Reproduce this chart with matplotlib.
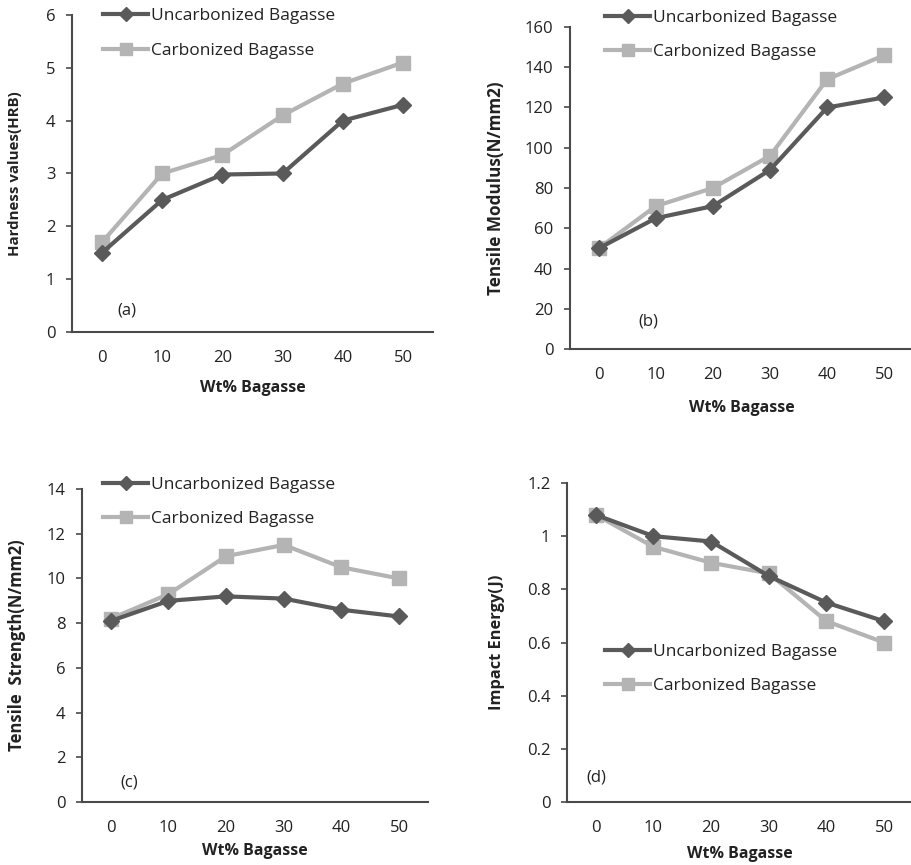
import matplotlib.pyplot as plt

plt.rcParams['font.family'] = ['Open Sans', 'DejaVu Sans']

wt = ['0', '10', '20', '30', '40', '50']

hard_unc = [1.5, 2.5, 2.98, 3.0, 4.0, 4.3]
hard_car = [1.7, 3.0, 3.35, 4.1, 4.7, 5.1]

mod_unc = [50, 65, 71, 89, 120, 125]
mod_car = [50, 71, 80, 96, 134, 146]

str_unc = [8.1, 9.0, 9.2, 9.1, 8.6, 8.3]
str_car = [8.2, 9.3, 11.0, 11.5, 10.5, 10.0]

imp_unc = [1.08, 1.0, 0.98, 0.85, 0.75, 0.68]
imp_car = [1.08, 0.96, 0.90, 0.86, 0.68, 0.60]

dark = '#5a5a5a'
light = '#b4b4b4'
txt = '#222222'

fig = plt.figure(figsize=(9.12, 8.65), dpi=100)

# (rect, unc, car, ymax, yticks, ylabel, ylabel size, tag, tag pos, legend pos, ylabel x, xlabel y)
panels = [
    ([0.0789, 0.6162, 0.396, 0.3665], hard_unc, hard_car, 6, range(0, 7, 1),
     'Hardness values(HRB)', 10.8, '(a)', (0.127, 0.069), (0.086, 0.9416), -0.138, -0.151),
    ([0.625, 0.5965, 0.376, 0.3723], mod_unc, mod_car, 160, range(0, 161, 20),
     'Tensile Modulus(N/mm2)', 12.3, '(b)', (0.198, 0.084), (0.102, 0.975), -0.19, -0.158),
    ([0.0899, 0.0728, 0.3794, 0.3618], str_unc, str_car, 14, range(0, 15, 2),
     'Tensile  Strength(N/mm2)', 12, '(c)', (0.11, 0.061), (0.061, 0.958), -0.162, -0.131),
    ([0.6217, 0.0728, 0.3794, 0.3688], imp_unc, imp_car, 1.2, [0, 0.2, 0.4, 0.6, 0.8, 1, 1.2],
     'Impact Energy(J)', 11.8, '(d)', (0.055, 0.078), (0.110, 0.417), -0.179, -0.138),
]

for rect, unc, car, ymax, yt, ylab, ylsize, tag, tagpos, legpos, ylx, xly in panels:
    ax = fig.add_axes(rect)
    x = range(len(wt))
    ax.plot(x, unc, color=dark, lw=3, marker='D', ms=8, label='Uncarbonized Bagasse', zorder=3)
    ax.plot(x, car, color=light, lw=3, marker='s', ms=10, label='Carbonized Bagasse', zorder=2)
    ax.set_xlim(-0.5, 5.5)
    ax.set_ylim(0, ymax)
    ax.set_xticks(list(x))
    ax.set_xticklabels(wt)
    ax.set_yticks(list(yt))
    ax.set_yticklabels(['%g' % v for v in yt])
    for s in ['top', 'right']:
        ax.spines[s].set_visible(False)
    for s in ['left', 'bottom']:
        ax.spines[s].set_color('#4a4a4a')
        ax.spines[s].set_linewidth(1.5)
    ax.tick_params(axis='y', length=4, width=1.2, color='#4a4a4a', pad=8, labelsize=12, labelcolor=txt)
    ax.tick_params(axis='x', length=0, pad=13, labelsize=12, labelcolor=txt)
    ax.set_ylabel(ylab, fontsize=ylsize, fontweight='bold', color=txt)
    ax.set_xlabel('Wt% Bagasse', fontsize=11.5, fontweight='bold', color=txt)
    ax.yaxis.set_label_coords(ylx, 0.5)
    ax.xaxis.set_label_coords(0.5, xly)
    ax.text(tagpos[0], tagpos[1], tag, transform=ax.transAxes, fontsize=12, color=txt,
            va='center', ha='left')
    leg = ax.legend(loc='center left', bbox_to_anchor=legpos, frameon=False, fontsize=12.5,
                    handlelength=2.6, handletextpad=0.15, labelspacing=1.05,
                    borderpad=0, borderaxespad=0, markerscale=0.85)
    for t in leg.get_texts():
        t.set_color(txt)
    for h in leg.legend_handles:
        h.set_linewidth(3)
    leg.set_zorder(1)

fig.savefig('out.png', dpi=100)
